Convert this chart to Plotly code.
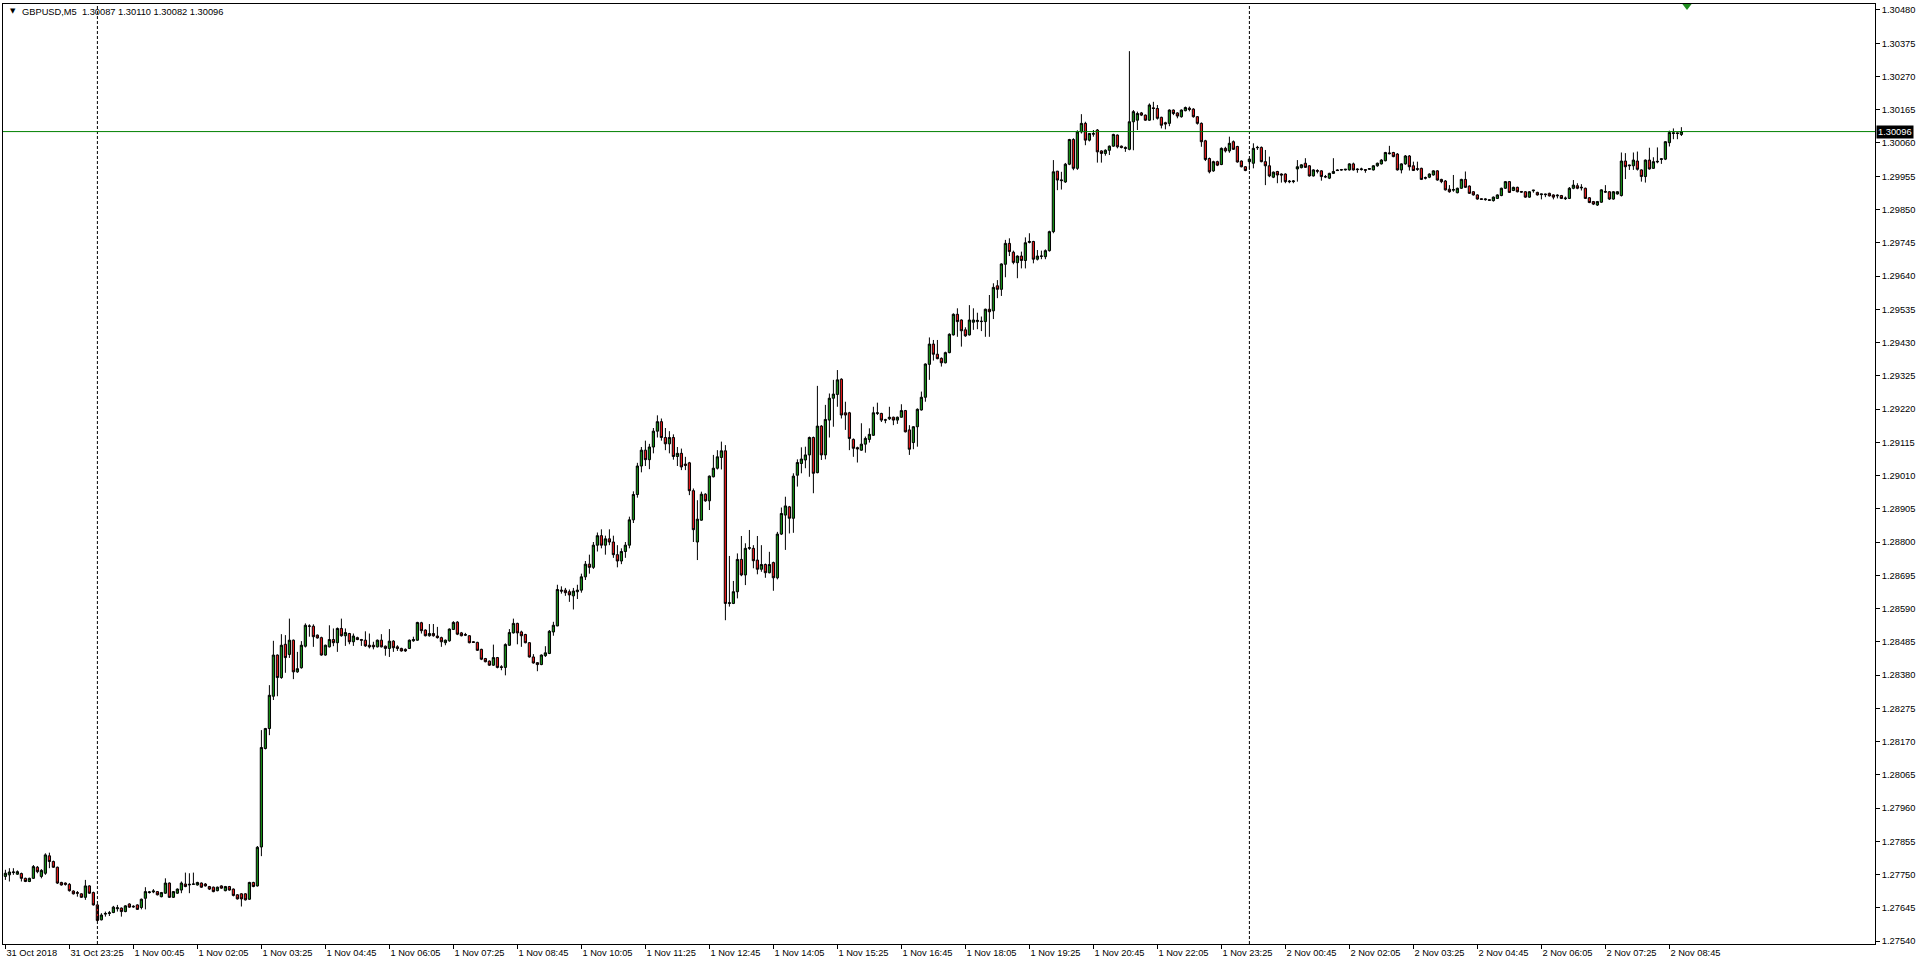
import plotly.graph_objects as go

# ---------------- data (GBPUSD M5, one value per 5-minute bar) ----------------
opens = [
1.27744,1.27749,1.27756,1.27751,1.27753,1.27738,1.27728,1.27738,1.27773,1.27744,
1.27754,1.27809,1.27791,1.27773,1.27725,1.27723,1.27719,1.27698,1.27693,1.27689,
1.27678,1.27714,1.27693,1.27654,1.27607,1.27625,1.27627,1.27630,1.27642,1.27644,
1.27633,1.27657,1.27650,1.27654,1.27646,1.27675,1.27693,1.27695,1.27696,1.27680,
1.27691,1.27723,1.27678,1.27691,1.27701,1.27720,1.27717,1.27719,1.27717,1.27723,
1.27720,1.27712,1.27710,1.27699,1.27714,1.27699,1.27712,1.27704,1.27686,1.27689,
1.27689,1.27672,1.27725,1.27714,1.27837,1.28148,1.28211,1.28313,1.28443,1.28372,
1.28477,1.28445,1.28490,1.28390,1.28403,1.28471,1.28535,1.28534,1.28506,1.28498,
1.28443,1.28469,1.28492,1.28482,1.28527,1.28504,1.28511,1.28485,1.28498,1.28492,
1.28490,1.28474,1.28474,1.28469,1.28490,1.28471,1.28464,1.28487,1.28469,1.28464,
1.28461,1.28464,1.28488,1.28490,1.28545,1.28522,1.28504,1.28511,1.28503,1.28498,
1.28482,1.28488,1.28524,1.28547,1.28513,1.28508,1.28504,1.28485,1.28483,1.28461,
1.28432,1.28424,1.28411,1.28435,1.28406,1.28404,1.28474,1.28513,1.28543,1.28516,
1.28508,1.28482,1.28437,1.28419,1.28413,1.28441,1.28448,1.28516,1.28535,1.28648,
1.28648,1.28643,1.28630,1.28643,1.28648,1.28690,1.28730,1.28720,1.28790,1.28820,
1.28790,1.28810,1.28800,1.28760,1.28740,1.28770,1.28790,1.28870,1.28950,1.29040,
1.29090,1.29060,1.29100,1.29150,1.29180,1.29130,1.29110,1.29130,1.29070,1.29080,
1.29046,1.29050,1.28962,1.28800,1.28869,1.28951,1.28930,1.29006,1.29033,1.29067,
1.29088,1.28606,1.28606,1.28643,1.28745,1.28696,1.28780,1.28780,1.28743,1.28714,
1.28729,1.28703,1.28735,1.28687,1.28825,1.28885,1.28911,1.28875,1.29011,1.29048,
1.29059,1.29075,1.29130,1.29019,1.29166,1.29075,1.29185,1.29254,1.29266,1.29314,
1.29208,1.29208,1.29124,1.29098,1.29090,1.29109,1.29124,1.29137,1.29206,1.29206,
1.29186,1.29189,1.29194,1.29185,1.29194,1.29215,1.29154,1.29114,1.29164,1.29217,
1.29257,1.29361,1.29425,1.29393,1.29380,1.29366,1.29398,1.29454,1.29519,1.29501,
1.29470,1.29454,1.29494,1.29496,1.29496,1.29496,1.29535,1.29530,1.29609,1.29598,
1.29677,1.29743,1.29715,1.29682,1.29703,1.29689,1.29746,1.29749,1.29693,1.29702,
1.29701,1.29720,1.29780,1.29971,1.29941,1.29937,1.29993,1.30071,1.29980,1.30095,
1.30122,1.30069,1.30090,1.30101,1.30035,1.30027,1.30037,1.30050,1.30085,1.30050,
1.30046,1.30040,1.30127,1.30132,1.30155,1.30148,1.30132,1.30171,1.30169,1.30141,
1.30124,1.30122,1.30164,1.30155,1.30143,1.30162,1.30170,1.30167,1.30143,1.30122,
1.30067,1.30011,1.29972,1.30001,1.29992,1.30043,1.30035,1.30064,1.30049,1.30003,
1.29985,1.30001,1.29996,1.30045,1.30046,1.30001,1.29988,1.29952,1.29970,1.29962,
1.29962,1.29940,1.29938,1.29978,1.29982,1.29996,1.29988,1.29956,1.29973,1.29972,
1.29954,1.29949,1.29964,1.29975,1.29976,1.29975,1.29975,1.29994,1.29978,1.29976,
1.29976,1.29977,1.29975,1.29988,1.29994,1.30004,1.30026,1.30030,1.30025,1.29975,
1.29994,1.30019,1.29988,1.29979,1.29980,1.29951,1.29952,1.29959,1.29972,1.29945,
1.29940,1.29914,1.29911,1.29903,1.29917,1.29945,1.29924,1.29906,1.29896,1.29884,
1.29881,1.29881,1.29878,1.29885,1.29894,1.29917,1.29938,1.29910,1.29920,1.29907,
1.29906,1.29889,1.29909,1.29904,1.29897,1.29899,1.29901,1.29896,1.29893,1.29894,
1.29884,1.29885,1.29917,1.29925,1.29918,1.29917,1.29887,1.29875,1.29864,1.29873,
1.29907,1.29906,1.29883,1.29899,1.29894,1.30003,1.29988,1.29988,1.30003,1.29975,
1.29954,1.30006,1.29980,1.30000,1.30008,1.30009,1.30061,1.30090,1.30092,1.30087]

highs = [
1.27765,1.27770,1.27770,1.27763,1.27756,1.27740,1.27740,1.27780,1.27777,1.27767,
1.27817,1.27819,1.27794,1.27775,1.27727,1.27725,1.27723,1.27700,1.27698,1.27691,
1.27733,1.27716,1.27696,1.27657,1.27628,1.27633,1.27635,1.27651,1.27654,1.27646,
1.27653,1.27659,1.27653,1.27656,1.27674,1.27710,1.27698,1.27704,1.27698,1.27695,
1.27738,1.27725,1.27698,1.27706,1.27728,1.27756,1.27754,1.27756,1.27727,1.27725,
1.27723,1.27714,1.27712,1.27712,1.27716,1.27714,1.27714,1.27706,1.27688,1.27691,
1.27691,1.27727,1.27727,1.27840,1.28206,1.28213,1.28348,1.28488,1.28445,1.28509,
1.28506,1.28558,1.28492,1.28453,1.28487,1.28543,1.28540,1.28540,1.28508,1.28501,
1.28476,1.28537,1.28527,1.28530,1.28558,1.28527,1.28513,1.28511,1.28501,1.28494,
1.28518,1.28511,1.28485,1.28492,1.28509,1.28473,1.28525,1.28490,1.28474,1.28466,
1.28464,1.28492,1.28501,1.28548,1.28548,1.28524,1.28541,1.28541,1.28532,1.28501,
1.28492,1.28527,1.28550,1.28550,1.28516,1.28513,1.28506,1.28487,1.28485,1.28463,
1.28434,1.28426,1.28476,1.28437,1.28411,1.28480,1.28525,1.28558,1.28545,1.28520,
1.28510,1.28484,1.28446,1.28421,1.28445,1.28471,1.28522,1.28548,1.28665,1.28660,
1.28655,1.28650,1.28655,1.28665,1.28700,1.28740,1.28760,1.28800,1.28830,1.28840,
1.28820,1.28840,1.28820,1.28790,1.28780,1.28800,1.28880,1.28960,1.29050,1.29100,
1.29120,1.29110,1.29160,1.29200,1.29190,1.29160,1.29150,1.29140,1.29100,1.29095,
1.29069,1.29053,1.28969,1.28932,1.28959,1.28954,1.29010,1.29075,1.29090,1.29117,
1.29106,1.28756,1.28677,1.28764,1.28819,1.28796,1.28838,1.28790,1.28819,1.28790,
1.28732,1.28769,1.28738,1.28832,1.28909,1.28943,1.28914,1.29017,1.29061,1.29099,
1.29101,1.29133,1.29133,1.29293,1.29169,1.29233,1.29269,1.29312,1.29343,1.29317,
1.29243,1.29211,1.29127,1.29101,1.29175,1.29133,1.29159,1.29227,1.29240,1.29208,
1.29189,1.29227,1.29196,1.29196,1.29235,1.29217,1.29169,1.29166,1.29222,1.29275,
1.29364,1.29446,1.29438,1.29438,1.29383,1.29401,1.29459,1.29522,1.29538,1.29503,
1.29478,1.29548,1.29538,1.29524,1.29512,1.29537,1.29580,1.29617,1.29627,1.29680,
1.29754,1.29759,1.29720,1.29705,1.29717,1.29762,1.29775,1.29751,1.29722,1.29720,
1.29724,1.29783,1.30006,1.29972,1.29969,1.29997,1.30073,1.30075,1.30100,1.30151,
1.30127,1.30090,1.30101,1.30104,1.30037,1.30040,1.30052,1.30089,1.30087,1.30052,
1.30049,1.30350,1.30164,1.30159,1.30158,1.30150,1.30185,1.30190,1.30180,1.30143,
1.30127,1.30166,1.30166,1.30157,1.30166,1.30175,1.30175,1.30170,1.30145,1.30125,
1.30070,1.30014,1.30004,1.30004,1.30046,1.30048,1.30080,1.30068,1.30051,1.30005,
1.29987,1.30011,1.30059,1.30051,1.30049,1.30038,1.30017,1.29970,1.29972,1.29964,
1.29964,1.29943,1.29943,1.30006,1.29993,1.30012,1.29990,1.29977,1.29977,1.29974,
1.29959,1.29966,1.30012,1.29977,1.29978,1.29978,1.29996,1.29998,1.29980,1.29982,
1.29977,1.29979,1.29990,1.29998,1.30009,1.30032,1.30051,1.30032,1.30028,1.29996,
1.30022,1.30022,1.30001,1.30001,1.29982,1.29954,1.29964,1.29974,1.29974,1.29947,
1.29943,1.29927,1.29959,1.29919,1.29947,1.29970,1.29926,1.29908,1.29898,1.29885,
1.29885,1.29882,1.29891,1.29898,1.29919,1.29940,1.29940,1.29922,1.29922,1.29908,
1.29908,1.29908,1.29912,1.29906,1.29899,1.29900,1.29903,1.29898,1.29898,1.29896,
1.29891,1.29921,1.29943,1.29933,1.29930,1.29919,1.29889,1.29877,1.29877,1.29914,
1.29927,1.29908,1.29908,1.29908,1.30030,1.30028,1.29991,1.30030,1.30033,1.29977,
1.30008,1.30045,1.30015,1.30046,1.30012,1.30066,1.30099,1.30106,1.30093,1.30110]

lows = [
1.27733,1.27728,1.27749,1.27749,1.27728,1.27726,1.27726,1.27736,1.27754,1.27738,
1.27749,1.27770,1.27771,1.27720,1.27715,1.27715,1.27696,1.27687,1.27680,1.27676,
1.27670,1.27689,1.27652,1.27602,1.27605,1.27617,1.27619,1.27628,1.27633,1.27617,
1.27631,1.27645,1.27645,1.27638,1.27640,1.27640,1.27690,1.27691,1.27684,1.27678,
1.27689,1.27676,1.27676,1.27689,1.27691,1.27710,1.27691,1.27717,1.27715,1.27708,
1.27712,1.27701,1.27694,1.27697,1.27705,1.27697,1.27699,1.27681,1.27671,1.27649,
1.27668,1.27670,1.27710,1.27712,1.27808,1.28145,1.28190,1.28301,1.28313,1.28368,
1.28387,1.28434,1.28367,1.28387,1.28400,1.28467,1.28501,1.28469,1.28495,1.28441,
1.28441,1.28467,1.28471,1.28453,1.28501,1.28472,1.28477,1.28472,1.28490,1.28472,
1.28469,1.28464,1.28461,1.28467,1.28467,1.28441,1.28437,1.28453,1.28456,1.28454,
1.28453,1.28462,1.28485,1.28488,1.28511,1.28502,1.28501,1.28501,1.28495,1.28469,
1.28474,1.28485,1.28522,1.28506,1.28502,1.28503,1.28480,1.28482,1.28456,1.28427,
1.28420,1.28409,1.28409,1.28401,1.28395,1.28379,1.28472,1.28511,1.28477,1.28469,
1.28480,1.28435,1.28416,1.28392,1.28411,1.28437,1.28446,1.28504,1.28534,1.28637,
1.28630,1.28611,1.28587,1.28620,1.28640,1.28680,1.28700,1.28715,1.28770,1.28780,
1.28760,1.28790,1.28750,1.28720,1.28730,1.28750,1.28780,1.28860,1.28940,1.29020,
1.29040,1.29030,1.29080,1.29130,1.29120,1.29090,1.29080,1.29060,1.29040,1.29027,
1.29027,1.28948,1.28800,1.28743,1.28867,1.28927,1.28901,1.29004,1.29029,1.29029,
1.28553,1.28596,1.28604,1.28622,1.28692,1.28664,1.28775,1.28717,1.28698,1.28706,
1.28687,1.28701,1.28646,1.28682,1.28822,1.28775,1.28827,1.28829,1.28975,1.29017,
1.29033,1.29006,1.28954,1.29017,1.29059,1.29061,1.29130,1.29164,1.29227,1.29190,
1.29154,1.29090,1.29069,1.29051,1.29088,1.29082,1.29114,1.29135,1.29201,1.29179,
1.29175,1.29185,1.29169,1.29173,1.29193,1.29146,1.29075,1.29093,1.29101,1.29215,
1.29243,1.29312,1.29373,1.29377,1.29354,1.29364,1.29396,1.29452,1.29448,1.29417,
1.29448,1.29452,1.29470,1.29472,1.29466,1.29448,1.29448,1.29504,1.29570,1.29577,
1.29636,1.29703,1.29677,1.29633,1.29664,1.29664,1.29743,1.29680,1.29689,1.29693,
1.29693,1.29717,1.29775,1.29911,1.29913,1.29934,1.29990,1.29974,1.29975,1.30090,
1.30053,1.30065,1.30080,1.29998,1.29998,1.30020,1.30022,1.30048,1.30043,1.30043,
1.30032,1.30037,1.30037,1.30101,1.30145,1.30130,1.30130,1.30132,1.30134,1.30106,
1.30103,1.30113,1.30148,1.30138,1.30140,1.30160,1.30160,1.30140,1.30118,1.30048,
1.30003,1.29964,1.29969,1.29987,1.29990,1.30030,1.30029,1.30038,1.29998,1.29983,
1.29971,1.29975,1.29980,1.30038,1.29999,1.29927,1.29952,1.29949,1.29933,1.29935,
1.29933,1.29933,1.29933,1.29938,1.29980,1.29981,1.29954,1.29954,1.29964,1.29941,
1.29949,1.29946,1.29962,1.29972,1.29973,1.29973,1.29973,1.29973,1.29966,1.29973,
1.29966,1.29975,1.29973,1.29985,1.29992,1.30002,1.30024,1.30015,1.29973,1.29964,
1.29991,1.29973,1.29972,1.29972,1.29943,1.29945,1.29949,1.29957,1.29941,1.29933,
1.29910,1.29903,1.29906,1.29901,1.29915,1.29918,1.29899,1.29894,1.29881,1.29880,
1.29878,1.29878,1.29875,1.29883,1.29892,1.29915,1.29902,1.29908,1.29904,1.29903,
1.29887,1.29887,1.29903,1.29894,1.29882,1.29889,1.29891,1.29882,1.29885,1.29883,
1.29880,1.29883,1.29914,1.29914,1.29910,1.29883,1.29870,1.29864,1.29861,1.29871,
1.29903,1.29880,1.29881,1.29897,1.29891,1.29946,1.29975,1.29975,1.29973,1.29938,
1.29935,1.29976,1.29978,1.29996,1.29994,1.30006,1.30049,1.30072,1.30072,1.30082]

closes = [
1.27754,1.27758,1.27758,1.27759,1.27738,1.27728,1.27738,1.27775,1.27759,1.27763,
1.27812,1.27791,1.27773,1.27723,1.27717,1.27719,1.27699,1.27689,1.27691,1.27678,
1.27714,1.27691,1.27654,1.27605,1.27622,1.27627,1.27629,1.27647,1.27645,1.27633,
1.27651,1.27647,1.27648,1.27640,1.27672,1.27696,1.27695,1.27698,1.27686,1.27693,
1.27723,1.27678,1.27696,1.27704,1.27723,1.27712,1.27719,1.27720,1.27725,1.27710,
1.27714,1.27704,1.27696,1.27710,1.27707,1.27712,1.27701,1.27684,1.27673,1.27673,
1.27670,1.27725,1.27712,1.27836,1.28151,1.28211,1.28316,1.28443,1.28372,1.28474,
1.28435,1.28490,1.28390,1.28400,1.28474,1.28537,1.28534,1.28501,1.28497,1.28443,
1.28474,1.28492,1.28482,1.28527,1.28504,1.28514,1.28485,1.28503,1.28492,1.28490,
1.28472,1.28469,1.28469,1.28490,1.28469,1.28464,1.28487,1.28466,1.28464,1.28456,
1.28456,1.28490,1.28492,1.28546,1.28520,1.28504,1.28511,1.28504,1.28498,1.28485,
1.28490,1.28525,1.28546,1.28509,1.28504,1.28506,1.28482,1.28483,1.28458,1.28430,
1.28422,1.28411,1.28435,1.28404,1.28404,1.28476,1.28514,1.28543,1.28513,1.28504,
1.28482,1.28437,1.28418,1.28413,1.28443,1.28450,1.28518,1.28537,1.28650,1.28645,
1.28640,1.28633,1.28645,1.28648,1.28690,1.28730,1.28720,1.28790,1.28820,1.28790,
1.28810,1.28800,1.28760,1.28740,1.28770,1.28790,1.28870,1.28950,1.29040,1.29090,
1.29060,1.29100,1.29150,1.29180,1.29130,1.29110,1.29130,1.29070,1.29080,1.29037,
1.29042,1.28962,1.28839,1.28872,1.28951,1.28930,1.29008,1.29033,1.29069,1.29088,
1.28606,1.28608,1.28643,1.28745,1.28696,1.28780,1.28782,1.28741,1.28714,1.28729,
1.28703,1.28729,1.28687,1.28825,1.28890,1.28914,1.28875,1.29008,1.29051,1.29062,
1.29075,1.29130,1.29017,1.29166,1.29075,1.29187,1.29254,1.29267,1.29312,1.29201,
1.29201,1.29127,1.29096,1.29094,1.29109,1.29127,1.29140,1.29208,1.29208,1.29185,
1.29185,1.29194,1.29185,1.29194,1.29215,1.29148,1.29093,1.29164,1.29219,1.29257,
1.29362,1.29425,1.29393,1.29379,1.29366,1.29398,1.29456,1.29519,1.29496,1.29467,
1.29451,1.29501,1.29501,1.29500,1.29497,1.29535,1.29527,1.29604,1.29598,1.29678,
1.29743,1.29717,1.29683,1.29703,1.29689,1.29745,1.29749,1.29693,1.29703,1.29703,
1.29720,1.29780,1.29969,1.29943,1.29943,1.29993,1.30071,1.29980,1.30095,1.30122,
1.30069,1.30090,1.30088,1.30032,1.30027,1.30037,1.30050,1.30087,1.30048,1.30046,
1.30043,1.30127,1.30159,1.30153,1.30148,1.30132,1.30180,1.30169,1.30138,1.30116,
1.30120,1.30164,1.30153,1.30145,1.30164,1.30172,1.30166,1.30143,1.30122,1.30064,
1.30008,1.29969,1.30001,1.29990,1.30043,1.30035,1.30059,1.30040,1.30000,1.29985,
1.29973,1.30009,1.30043,1.30046,1.30001,1.29988,1.29956,1.29968,1.29959,1.29959,
1.29938,1.29938,1.29940,1.29985,1.29991,1.29983,1.29956,1.29975,1.29971,1.29954,
1.29953,1.29964,1.29970,1.29973,1.29975,1.29977,1.29994,1.29975,1.29976,1.29978,
1.29974,1.29979,1.29988,1.29996,1.30006,1.30030,1.30028,1.30017,1.29975,1.29994,
1.30019,1.29985,1.29973,1.29977,1.29945,1.29949,1.29962,1.29972,1.29943,1.29938,
1.29912,1.29906,1.29913,1.29917,1.29945,1.29920,1.29901,1.29896,1.29883,1.29882,
1.29883,1.29879,1.29889,1.29896,1.29917,1.29938,1.29904,1.29920,1.29906,1.29905,
1.29889,1.29906,1.29911,1.29896,1.29899,1.29897,1.29893,1.29889,1.29895,1.29885,
1.29886,1.29917,1.29927,1.29917,1.29920,1.29885,1.29872,1.29867,1.29875,1.29912,
1.29905,1.29883,1.29906,1.29906,1.30003,1.29985,1.29990,1.30006,1.29977,1.29954,
1.30006,1.29978,1.30001,1.30002,1.30010,1.30064,1.30093,1.30092,1.30090,1.30096]

# time-axis labels (one every 16 bars = 80 minutes)
x_tick_bars = [0, 16, 32, 48, 64, 80, 96, 112, 128, 144, 160, 176, 192, 208,
               224, 240, 256, 272, 288, 304, 320, 336, 352, 368, 384, 400, 416]
x_tick_labels = ["31 Oct 2018", "31 Oct 23:25", "1 Nov 00:45", "1 Nov 02:05",
                 "1 Nov 03:25", "1 Nov 04:45", "1 Nov 06:05", "1 Nov 07:25",
                 "1 Nov 08:45", "1 Nov 10:05", "1 Nov 11:25", "1 Nov 12:45",
                 "1 Nov 14:05", "1 Nov 15:25", "1 Nov 16:45", "1 Nov 18:05",
                 "1 Nov 19:25", "1 Nov 20:45", "1 Nov 22:05", "1 Nov 23:25",
                 "2 Nov 00:45", "2 Nov 02:05", "2 Nov 03:25", "2 Nov 04:45",
                 "2 Nov 06:05", "2 Nov 07:25", "2 Nov 08:45"]
y_tick_labels = ["1.30480", "1.30375", "1.30270", "1.30165", "1.30060", "1.29955",
                 "1.29850", "1.29745", "1.29640", "1.29535", "1.29430", "1.29325",
                 "1.29220", "1.29115", "1.29010", "1.28905", "1.28800", "1.28695",
                 "1.28590", "1.28485", "1.28380", "1.28275", "1.28170", "1.28065",
                 "1.27960", "1.27855", "1.27750", "1.27645", "1.27540"]
day_separator_bars = [23, 311]
bid_price = 1.30096
header_text = "GBPUSD,M5  1.30087 1.30110 1.30082 1.30096"

# ---------------- figure ----------------
FONT = "Liberation Sans, Arial, sans-serif"
bars = list(range(len(opens)))

fig = go.Figure()
fig.add_trace(go.Candlestick(
    x=bars, open=opens, high=highs, low=lows, close=closes,
    increasing=dict(line=dict(color="#000000", width=1), fillcolor="#138A13"),
    decreasing=dict(line=dict(color="#000000", width=1), fillcolor="#E01818"),
    whiskerwidth=0, hoverinfo="skip", showlegend=False))

# small green marker at the top right
fig.add_trace(go.Scatter(
    x=[420.4], y=[1.30494], mode="markers", cliponaxis=False, hoverinfo="skip",
    marker=dict(symbol="triangle-down", size=9, color="#1E8C1E",
                line=dict(width=0)), showlegend=False))

shapes = []
for b in day_separator_bars:
    shapes.append(dict(type="line", xref="x", yref="paper", x0=b, x1=b, y0=0, y1=1,
                       line=dict(color="#000000", width=1, dash="3px,2px")))
shapes.append(dict(type="line", xref="paper", yref="y", x0=0, x1=1,
                   y0=bid_price, y1=bid_price,
                   line=dict(color="#008000", width=1)))

annotations = [
    dict(xref="paper", yref="paper", x=0.0027, y=0.9985, xanchor="left", yanchor="top",
         text="▼", showarrow=False, font=dict(family="DejaVu Sans", size=7, color="#000000")),
    dict(xref="paper", yref="paper", x=0.0092, y=0.999, xanchor="left", yanchor="top",
         text=header_text, showarrow=False,
         font=dict(family=FONT, size=9.3, color="#000000")),
    dict(xref="paper", yref="y", x=1.0, y=bid_price, xanchor="left", yanchor="middle",
         xshift=1, text="1.30096", showarrow=False, bgcolor="#000000", borderpad=1,
         font=dict(family=FONT, size=9.3, color="#FFFFFF")),
]

fig.update_layout(
    width=1920, height=967,
    margin=dict(l=3, r=45, t=4, b=23),
    paper_bgcolor="#FFFFFF", plot_bgcolor="#FFFFFF",
    boxgap=0.2,
    shapes=shapes, annotations=annotations,
    font=dict(family=FONT, size=9.3, color="#000000"),
    xaxis=dict(range=[-0.6, 467.4], tickmode="array", tickvals=x_tick_bars,
               ticktext=x_tick_labels, ticks="outside", ticklen=4, tickcolor="#000000",
               ticklabelposition="outside right",
               showline=True, mirror=True, linecolor="#000000", linewidth=1,
               showgrid=False, zeroline=False, fixedrange=True,
               rangeslider=dict(visible=False),
               tickfont=dict(family=FONT, size=9.3, color="#000000")),
    yaxis=dict(side="right", range=[1.275306, 1.304989], tickmode="array",
               tickvals=[float(t) for t in y_tick_labels], ticktext=y_tick_labels,
               ticks="outside", ticklen=4, tickcolor="#000000",
               showline=True, mirror=True, linecolor="#000000", linewidth=1,
               showgrid=False, zeroline=False, fixedrange=True,
               tickfont=dict(family=FONT, size=9.3, color="#000000")),
)

fig.write_html("out.html", config={"displayModeBar": False},
               post_script="document.body.style.margin='0px';"
                           "document.body.style.overflow='hidden';")
